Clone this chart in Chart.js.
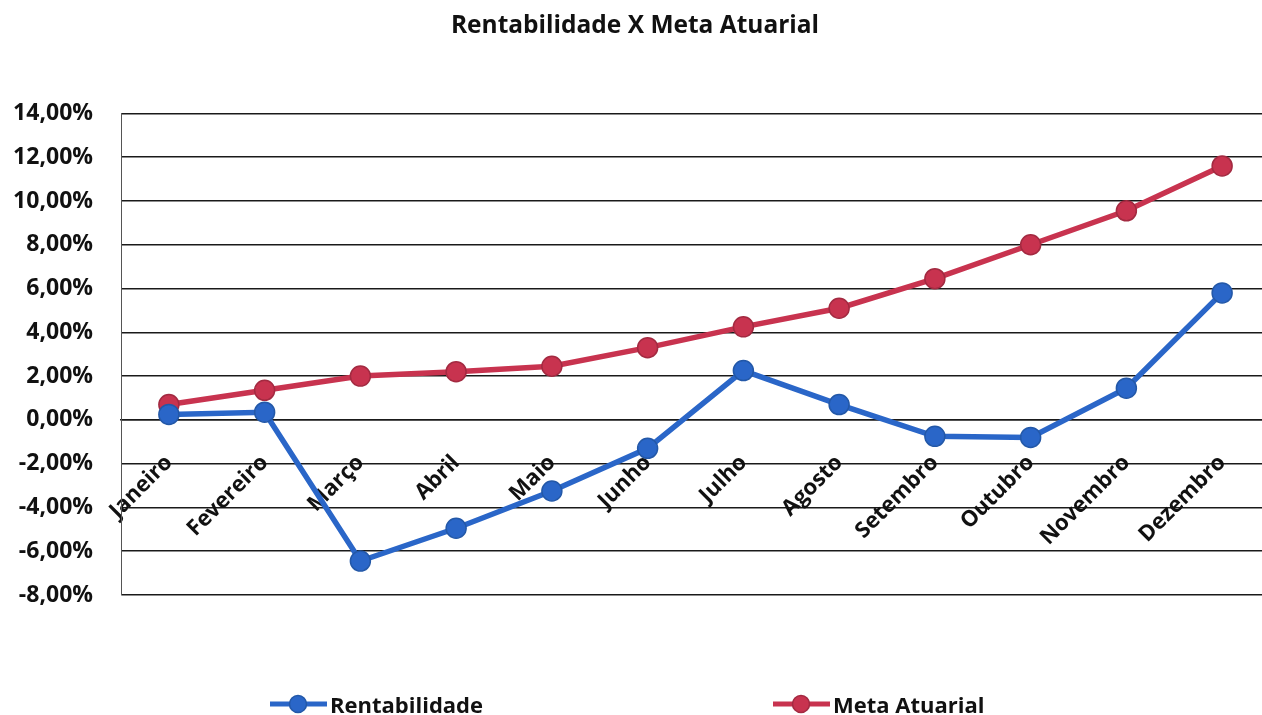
<!DOCTYPE html>
<html>
<head>
<meta charset="utf-8">
<title>Rentabilidade X Meta Atuarial</title>
<script src="https://cdn.jsdelivr.net/npm/chart.js@4"></script>
<style>
    html, body { margin: 0; padding: 0; overflow: hidden; background: #fff; }
    #wrap { position: relative; width: 1270px; height: 715px; }
    #chart { display: block; }
    .legend-item { position: absolute; top: 689px; display: flex; align-items: center;
        font-family: "Open Sans", sans-serif; font-weight: bold; font-size: 22px; color: #111; }
    .legend-item svg { margin-right: 3px; }
</style>
</head>
<body>
<div id="wrap">
    <canvas id="chart" width="1270" height="715"></canvas>
    <div class="legend-item" style="left:270px">
        <svg width="57" height="22"><line x1="0" y1="11" x2="57" y2="11" stroke="#2a66c8" stroke-width="5"/><circle cx="28" cy="11" r="8.5" fill="#2a66c8" stroke="#2358a8" stroke-width="1.5"/></svg>
        <span>Rentabilidade</span>
    </div>
    <div class="legend-item" style="left:773px">
        <svg width="57" height="22"><line x1="0" y1="11" x2="57" y2="11" stroke="#c8334f" stroke-width="5"/><circle cx="28" cy="11" r="8.5" fill="#c8334f" stroke="#a32a41" stroke-width="1.5"/></svg>
        <span>Meta Atuarial</span>
    </div>
</div>
<script>
const months = ["Janeiro", "Fevereiro", "Março", "Abril", "Maio", "Junho", "Julho", "Agosto", "Setembro", "Outubro", "Novembro", "Dezembro"];
const rentabilidade = [0.25, 0.35, -6.45, -4.95, -3.25, -1.3, 2.25, 0.7, -0.75, -0.8, 1.45, 5.8];
const metaAtuarial = [0.7, 1.35, 2.0, 2.2, 2.45, 3.3, 4.25, 5.1, 6.45, 8.0, 9.55, 11.6];
const yMin = -8;
const yMax = 14;
const yStep = 2;

const blue = "#2a66c8";
const red = "#c8334f";

Chart.defaults.font.family = "'Open Sans', sans-serif";
Chart.defaults.color = "#111";

function pct(v) {
    return v.toFixed(2).replace(".", ",") + "%";
}

const ctx = document.getElementById("chart").getContext("2d");

new Chart(ctx, {
    type: "line",
    data: {
        labels: months,
        datasets: [
            {
                label: "Rentabilidade",
                data: rentabilidade,
                borderColor: blue,
                backgroundColor: blue,
                borderWidth: 5.5,
                pointRadius: 10,
                pointBorderWidth: 1.5,
                pointBorderColor: "#2358a8",
                pointBackgroundColor: blue,
                tension: 0,
                fill: false
            },
            {
                label: "Meta Atuarial",
                data: metaAtuarial,
                borderColor: red,
                backgroundColor: red,
                borderWidth: 5.5,
                pointRadius: 10,
                pointBorderWidth: 1.5,
                pointBorderColor: "#a32a41",
                pointBackgroundColor: red,
                tension: 0,
                fill: false
            }
        ]
    },
    options: {
        responsive: false,
        animation: false,
        layout: { autoPadding: false, padding: { top: 0, bottom: 120, left: 0, right: 0 } },
        plugins: {
            legend: { display: false },
            tooltip: { enabled: false },
            title: {
                display: true,
                text: "Rentabilidade X Meta Atuarial",
                color: "#111",
                font: { size: 24.5, weight: "bold" },
                padding: { top: 11, bottom: 73 }
            }
        },
        scales: {
            x: {
                position: { y: 0 },
                offset: true,
                afterFit(scale) { scale.paddingLeft = 0; scale.paddingRight = 0; },
                grid: { display: false, drawTicks: false },
                border: { display: true, color: "#1a1a1a", width: 1.5 },
                ticks: {
                    autoSkip: false,
                    minRotation: 45,
                    maxRotation: 45,
                    padding: 30,
                    color: "#111",
                    font: { size: 22, weight: "bold" }
                }
            },
            y: {
                min: yMin,
                max: yMax,
                afterFit(scale) { scale.width = 121; },
                grid: { color: "#1a1a1a", lineWidth: 1.5, drawTicks: false },
                border: { display: true, color: "#555", width: 1 },
                ticks: {
                    stepSize: yStep,
                    padding: 28,
                    color: "#111",
                    font: { size: 23, weight: "bold" },
                    callback: (v) => pct(v)
                }
            }
        }
    }
});
</script>
</body>
</html>
